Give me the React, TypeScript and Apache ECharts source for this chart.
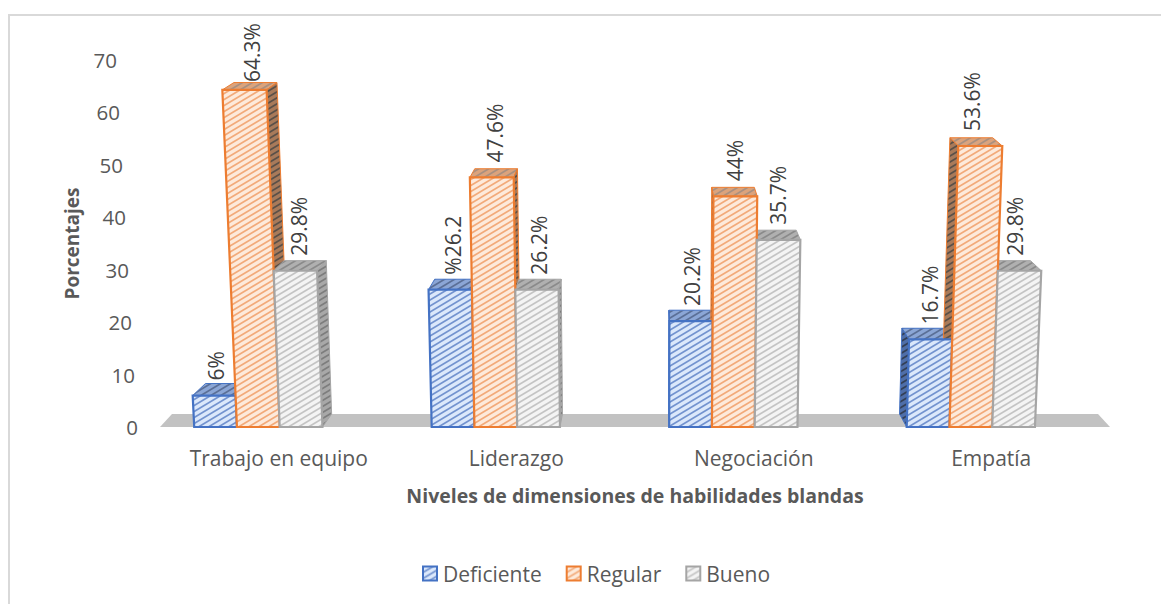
import React, { useEffect, useRef } from "react";
import * as echarts from "echarts";

const categories = ["Trabajo en equipo", "Liderazgo", "Negociación", "Empatía"];
const seriesNames = ["Deficiente", "Regular", "Bueno"];
const deficiente = [6, 26.2, 20.2, 16.7];
const regular = [64.3, 47.6, 44, 53.6];
const bueno = [29.8, 26.2, 35.7, 29.8];
const deficienteLabels = ["6%", "%26.2", "20.2%", "16.7%"];
const regularLabels = ["64.3%", "47.6%", "44%", "53.6%"];
const buenoLabels = ["29.8%", "26.2%", "35.7%", "29.8%"];
const yTicks = [0, 10, 20, 30, 40, 50, 60, 70];
const yAxisTitle = "Porcentajes";
const xAxisTitle = "Niveles de dimensiones de habilidades blandas";

const FONT = "'Open Sans', sans-serif";
const K_LEAN = 0.00055;
const K_DEPTH = 0.028;

function hatch(base: string, stripe: string, lw = 1.7) {
  const w = 10;
  const h = 6;
  const c = document.createElement("canvas");
  c.width = w;
  c.height = h;
  const g = c.getContext("2d")!;
  g.fillStyle = base;
  g.fillRect(0, 0, w, h);
  g.strokeStyle = stripe;
  g.lineWidth = lw;
  for (const d of [-6, 0, 6]) {
    g.beginPath();
    g.moveTo(-1, h + d + 0.6);
    g.lineTo(w + 1, d - 0.6);
    g.stroke();
  }
  return { image: c, repeat: "repeat", imageWidth: w, imageHeight: h } as any;
}

export default function App() {
  const ref = useRef<HTMLDivElement>(null);
  useEffect(() => {
    document.body.style.margin = "0";
    const chart = echarts.init(ref.current!, undefined, { renderer: "svg" });

    const looks = [
      {
        line: "#4472C4",
        front: hatch("#dbe8fb", "#7393cf"),
        side: hatch("#4f6ea8", "#333f55"),
        top: hatch("#8ba6d6", "#5b6f96"),
      },
      {
        line: "#ED7D31",
        front: hatch("#fdeadb", "#f2aa7a"),
        side: hatch("#a87a5a", "#5a5048"),
        top: hatch("#dba37c", "#a89080"),
      },
      {
        line: "#A5A5A5",
        front: hatch("#f4f4f4", "#c4c4c4"),
        side: hatch("#a8a8a8", "#7d7d7d"),
        top: hatch("#b0b0b0", "#8a8a8a"),
      },
    ];
    const allValues = [deficiente, regular, bueno];
    const allLabels = [deficienteLabels, regularLabels, buenoLabels];

    const makeBar = (si: number) => (params: any, api: any) => {
      const look = looks[si];
      const cs = params.coordSys;
      const cx = cs.x + cs.width * 0.516;
      const h = api.value(1);
      const [bandC, yTop] = api.coord([api.value(0), h]);
      const [, y0] = api.coord([api.value(0), 0]);
      const band = api.size([1, 0])[0];
      const bw = band * 0.18;
      const center = bandC - band * 0.086 + (si - 1) * bw;
      const xl = center - bw / 2;
      const xr = center + bw / 2;
      const lean = (x: number, v: number) => x + (x - cx) * K_LEAN * v;
      const back = (x: number) => (cx - x) * K_DEPTH;
      const dy = 12.5 - 0.08 * h;
      const tl = lean(xl, h);
      const tr = lean(xr, h);
      const edge = { stroke: look.line, lineWidth: 1 };
      const children: any[] = [];
      children.push({
        type: "polygon",
        z2: 10,
        shape: {
          points: [
            [tl, yTop],
            [tr, yTop],
            [tr + back(xr), yTop - dy],
            [tl + back(xl), yTop - dy],
          ],
        },
        style: { fill: look.top, ...edge },
      });
      if (xr < cx) {
        children.push({
          type: "polygon",
          z2: 10,
          shape: {
            points: [
              [xr, y0],
              [tr, yTop],
              [tr + back(xr), yTop - dy],
              [xr + back(xr), y0 - 13],
            ],
          },
          style: { fill: look.side, ...edge },
        });
      }
      if (xl > cx) {
        children.push({
          type: "polygon",
          z2: 10,
          shape: {
            points: [
              [xl, y0],
              [tl, yTop],
              [tl + back(xl), yTop - dy],
              [xl + back(xl), y0 - 13],
            ],
          },
          style: { fill: look.side, ...edge },
        });
      }
      children.push({
        type: "polygon",
        z2: 20,
        shape: {
          points: [
            [xl, y0],
            [xr, y0],
            [tr, yTop],
            [tl, yTop],
          ],
        },
        style: { fill: look.front, stroke: look.line, lineWidth: 2.2 },
      });
      children.push({
        type: "text",
        z2: 30,
        x: center + 1.5 + Math.min(lean(center, h) - center, 0) * 0.6,
        y: Math.max(yTop - 15, 82),
        rotation: Math.PI / 2,
        style: {
          text: allLabels[si][params.dataIndex],
          font: `21px ${FONT}`,
          fill: "#404040",
          align: "left",
          verticalAlign: "middle",
        },
      });
      return { type: "group", children };
    };

    const floor = (params: any) => {
      const cs = params.coordSys;
      const yb = cs.y + cs.height;
      return {
        type: "polygon",
        z2: 1,
        shape: {
          points: [
            [cs.x, yb],
            [cs.x + cs.width, yb],
            [cs.x + cs.width - 12, yb - 13],
            [cs.x + 12, yb - 13],
          ],
        },
        style: { fill: "#c2c2c2" },
      };
    };

    const rich: any = {};
    yTicks.forEach((t) => {
      rich["t" + t] = {
        fontFamily: FONT,
        fontSize: 20.5,
        color: "#595959",
        padding: [0, Math.round(t * 0.3), 0, 0],
      };
    });

    chart.setOption({
      animation: false,
      graphic: [
        {
          type: "polyline",
          silent: true,
          shape: { points: [[9, 604], [9, 15], [1161, 15]] },
          style: { fill: "none", stroke: "#d9d9d9", lineWidth: 2 },
        },
      ],
      grid: { left: 160, right: 51, top: 60, bottom: 177 },
      legend: {
        left: 422,
        top: 563,
        padding: 0,
        icon: "rect",
        itemWidth: 14,
        itemHeight: 14,
        itemGap: 24,
        textStyle: { fontFamily: FONT, fontSize: 21, color: "#595959", padding: [0, 0, 0, 1] },
        data: seriesNames.map((name, i) => ({
          name,
          itemStyle: { color: looks[i].front, borderColor: looks[i].line, borderWidth: 2 },
        })),
      },
      xAxis: {
        type: "category",
        data: categories,
        axisLine: { show: false },
        axisTick: { show: false },
        axisLabel: { margin: 20, fontFamily: FONT, fontSize: 21, color: "#595959" },
        name: xAxisTitle,
        nameLocation: "middle",
        nameMoveOverlap: false,
        nameGap: 58,
        nameTextStyle: { fontFamily: FONT, fontSize: 19.5, fontWeight: "bold", color: "#595959" },
      },
      yAxis: {
        type: "value",
        min: 0,
        max: 70,
        interval: 10,
        axisLine: { show: false },
        axisTick: { show: false },
        splitLine: { show: false },
        axisLabel: {
          margin: 22,
          formatter: (v: number) => `{t${v}|${v}}`,
          rich,
        },
        name: yAxisTitle,
        nameLocation: "middle",
        nameMoveOverlap: false,
        nameGap: 79,
        nameRotate: 90,
        nameTextStyle: { fontFamily: FONT, fontSize: 19, fontWeight: "bold", color: "#595959" },
      },
      series: [
        {
          type: "custom",
          silent: true,
          coordinateSystem: "cartesian2d",
          data: [[0, 0]],
          encode: { x: 0, y: 1 },
          renderItem: floor,
          clip: false,
          z: 2,
        },
        ...seriesNames.map((name, i) => ({
          type: "custom",
          name,
          coordinateSystem: "cartesian2d",
          data: allValues[i].map((v, c) => [c, v]),
          encode: { x: 0, y: 1 },
          renderItem: makeBar(i),
          itemStyle: { color: looks[i].line },
          clip: false,
          z: 2,
        })),
      ],
    });
    return () => chart.dispose();
  }, []);
  return <div ref={ref} style={{ width: 1161, height: 604 }} />;
}
